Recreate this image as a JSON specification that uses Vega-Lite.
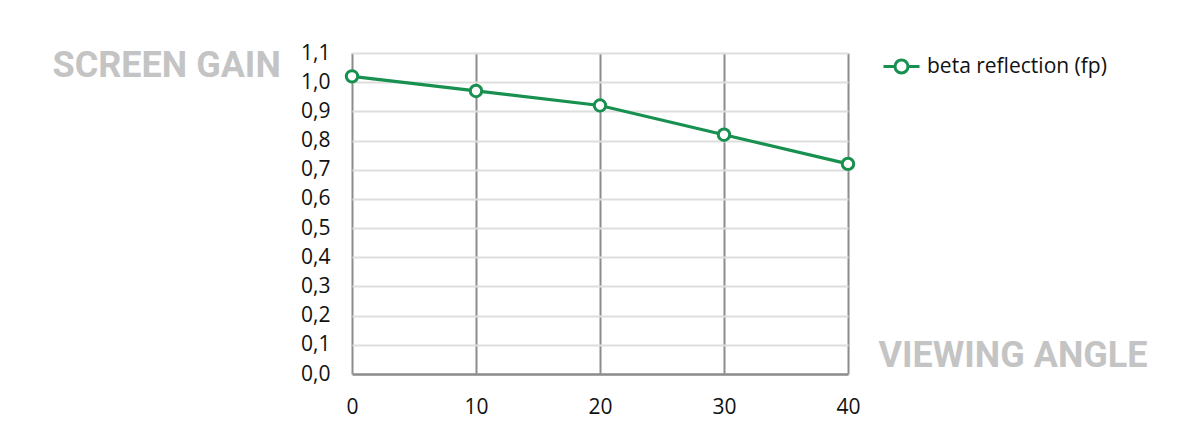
{
  "$schema": "https://vega.github.io/schema/vega-lite/v6.json",
  "width": 496,
  "height": 321,
  "autosize": "none",
  "padding": {"left": 352, "top": 53, "right": 352, "bottom": 73},
  "background": "white",
  "config": {
    "view": {"stroke": null},
    "font": "Open Sans"
  },
  "data": {
    "values": [
      {"angle": 0, "gain": 1.02, "series": "beta reflection (fp)"},
      {"angle": 10, "gain": 0.97, "series": "beta reflection (fp)"},
      {"angle": 20, "gain": 0.92, "series": "beta reflection (fp)"},
      {"angle": 30, "gain": 0.82, "series": "beta reflection (fp)"},
      {"angle": 40, "gain": 0.72, "series": "beta reflection (fp)"}
    ]
  },
  "encoding": {
    "x": {
      "field": "angle",
      "type": "quantitative",
      "scale": {"domain": [0, 40], "nice": false, "zero": false},
      "axis": {
        "values": [0, 10, 20, 30, 40],
        "title": "VIEWING ANGLE",
        "titleFont": "Roboto",
        "titleFontWeight": "bold",
        "titleFontSize": 36,
        "titleColor": "#c4c4c4",
        "titleAlign": "left",
        "titleBaseline": "alphabetic",
        "titleX": 526,
        "titleY": -8,
        "grid": true,
        "gridColor": "#8c8c8c",
        "gridWidth": 2,
        "domainColor": "#8c8c8c",
        "domainWidth": 2.5,
        "ticks": false,
        "labelPadding": 22,
        "labelFontSize": 21,
        "labelColor": "#111111",
        "labelFlush": false
      }
    },
    "y": {
      "field": "gain",
      "type": "quantitative",
      "scale": {"domain": [0, 1.1], "nice": false},
      "axis": {
        "values": [0, 0.1, 0.2, 0.3, 0.4, 0.5, 0.6, 0.7, 0.8, 0.9, 1.0, 1.1],
        "labelExpr": "replace(format(datum.value, '.1f'), '.', ',')",
        "title": "SCREEN GAIN",
        "titleFont": "Roboto",
        "titleFontWeight": "bold",
        "titleFontSize": 36,
        "titleColor": "#c4c4c4",
        "titleAngle": 0,
        "titleAlign": "left",
        "titleBaseline": "alphabetic",
        "titleX": -300,
        "titleY": 23,
        "grid": true,
        "gridColor": "#dedede",
        "gridWidth": 2,
        "domain": false,
        "ticks": false,
        "labelPadding": 22,
        "labelFontSize": 21,
        "labelColor": "#111111",
        "labelFlush": false
      }
    }
  },
  "layer": [
    {
      "mark": {"type": "line", "strokeWidth": 3.2},
      "encoding": {
        "color": {
          "field": "series",
          "type": "nominal",
          "scale": {"range": ["#18904f"]},
          "legend": {
            "title": null,
            "orient": "none",
            "legendX": 530,
            "legendY": -6,
            "symbolType": "M-1,0L-0.36,0M0.36,0L1,0M-0.36,0A0.36,0.36 0 1,1 0.36,0A0.36,0.36 0 1,1 -0.36,0Z",
            "symbolSize": 1296,
            "symbolStrokeWidth": 3,
            "symbolFillColor": "white",
            "symbolStrokeColor": "#18904f",
            "labelFontSize": 21,
            "labelLimit": 400,
            "labelColor": "#111111",
            "labelOffset": 6
          }
        }
      }
    },
    {
      "mark": {"type": "point", "shape": "circle", "filled": true, "fill": "white", "stroke": "#18904f", "strokeWidth": 3, "size": 130, "opacity": 1}
    }
  ]
}
